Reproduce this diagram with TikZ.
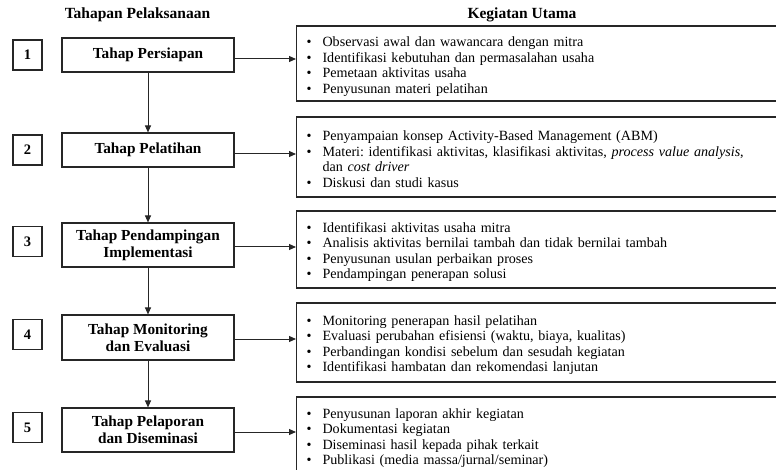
\documentclass[tikz,border=0pt]{standalone}
\usepackage{fontspec}
\setmainfont{Liberation Serif}
\usetikzlibrary{arrows.meta}
\newcommand{\bul}{\makebox[16pt][l]{\textbullet}}
\newcommand{\cont}{\hspace*{16pt}}
\newcommand{\topstrut}[1]{\rule{0pt}{#1}}
\begin{document}
\begin{tikzpicture}[x=1pt,y=-1pt,
  box/.style={draw=black!85, line width=1.1pt, inner sep=0pt},
  numbox/.style={box, minimum width=29pt, minimum height=30pt, font=\fontsize{14.5}{16}\selectfont\bfseries},
  stagebox/.style={box, minimum width=172pt, align=center, font=\fontsize{15.3}{17}\selectfont\bfseries},
  actbox/.style={box, anchor=west, text width=470pt, inner xsep=10pt, inner ysep=0pt, align=left, font=\fontsize{14.1}{15.6}\selectfont},
  head/.style={font=\fontsize{15.5}{17}\selectfont\bfseries},
  arr/.style={draw=black!85, line width=1pt, -{Triangle[length=7pt,width=6pt]}}
]
\useasboundingbox (0,0) rectangle (776,470);

\node[head] (h1) at (137.5,15) {Tahapan Pelaksanaan};
\node[head] (h2) at (522,15) {Kegiatan Utama};

% number boxes
\node[numbox] (n1) at (27.5,55) {1};
\node[numbox] (n2) at (27.5,150) {2};
\node[numbox] (n3) at (27.5,241.5) {3};
\node[numbox] (n4) at (27.5,334.5) {4};
\node[numbox] (n5) at (27.5,427.5) {5};

% stage boxes
\node[stagebox, minimum height=34pt] (s1) at (148,55) {Tahap Persiapan};
\node[stagebox, minimum height=34pt] (s2) at (148,150) {Tahap Pelatihan};
\node[stagebox, minimum height=44pt] (s3) at (148,245) {Tahap Pendampingan\\Implementasi};
\node[stagebox, minimum height=45pt] (s4) at (148,337.5) {Tahap Monitoring\\dan Evaluasi};
\node[stagebox, minimum height=44pt] (s5) at (148,430) {Tahap Pelaporan\\dan Diseminasi};

% activity boxes
\node[actbox, minimum height=75pt] (k1) at (296,63.5) {\topstrut{16pt}%
\bul Observasi awal dan wawancara dengan mitra\\
\bul Identifikasi kebutuhan dan permasalahan usaha\\
\bul Pemetaan aktivitas usaha\\
\bul Penyusunan materi pelatihan};
\node[actbox, minimum height=80pt] (k2) at (296,157) {\topstrut{14pt}%
\bul Penyampaian konsep Activity-Based Management (ABM)\\
\bul Materi:\ identifikasi aktivitas, klasifikasi aktivitas, \textit{process value analysis},\\
\cont dan \textit{cost driver}\\
\bul Diskusi dan studi kasus};
\node[actbox, minimum height=77pt] (k3) at (296,249.5) {\topstrut{15pt}%
\bul Identifikasi aktivitas usaha mitra\\
\bul Analisis aktivitas bernilai tambah dan tidak bernilai tambah\\
\bul Penyusunan usulan perbaikan proses\\
\bul Pendampingan penerapan solusi};
\node[actbox, minimum height=79pt] (k4) at (296,342.5) {\topstrut{15pt}%
\bul Monitoring penerapan hasil pelatihan\\
\bul Evaluasi perubahan efisiensi (waktu, biaya, kualitas)\\
\bul Perbandingan kondisi sebelum dan sesudah kegiatan\\
\bul Identifikasi hambatan dan rekomendasi lanjutan};
\node[actbox, minimum height=76pt] (k5) at (296,435) {\topstrut{16pt}%
\bul Penyusunan laporan akhir kegiatan\\
\bul Dokumentasi kegiatan\\
\bul Diseminasi hasil kepada pihak terkait\\
\bul Publikasi (media massa/jurnal/seminar)};

% vertical arrows
\draw[arr] (s1.south) -- (s2.north);
\draw[arr] (s2.south) -- (s3.north);
\draw[arr] (s3.south) -- (s4.north);
\draw[arr] (s4.south) -- (s5.north);

% horizontal arrows
\draw[arr] ([yshift=-4pt]s1.east) -- ([yshift=-4pt]s1.east -| k1.west);
\draw[arr] ([yshift=-4pt]s2.east) -- ([yshift=-4pt]s2.east -| k2.west);
\draw[arr] ([yshift=-2pt]s3.east) -- ([yshift=-2pt]s3.east -| k3.west);
\draw[arr] ([yshift=-1.5pt]s4.east) -- ([yshift=-1.5pt]s4.east -| k4.west);
\draw[arr] ([yshift=-2pt]s5.east) -- ([yshift=-2pt]s5.east -| k5.west);
\end{tikzpicture}
\end{document}
